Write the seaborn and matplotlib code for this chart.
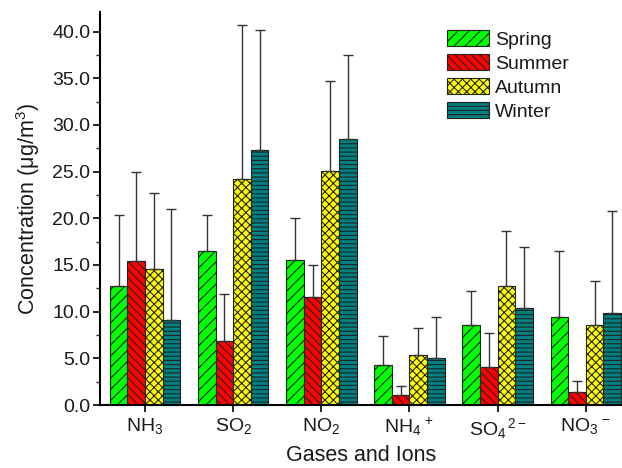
import numpy as np
import pandas as pd
import matplotlib
matplotlib.use("Agg")
import matplotlib.pyplot as plt
import matplotlib.patches as mpatches
from matplotlib.ticker import MultipleLocator, FormatStrFormatter
import seaborn as sns

# ---- data ----
species = [r"NH$_\mathregular{3}$", r"SO$_\mathregular{2}$", r"NO$_\mathregular{2}$",
           r"NH$_\mathregular{4}$$^{\mathregular{\,+}}$", r"SO$_\mathregular{4}$$^{\mathregular{\,2-}}$",
           r"NO$_\mathregular{3}$$^{\mathregular{\,-}}$"]
seasons = ["Spring", "Summer", "Autumn", "Winter"]
spring = [12.7, 16.5, 15.5, 4.3, 8.6, 9.4]
summer = [15.4, 6.9, 11.6, 1.1, 4.1, 1.4]
autumn = [14.6, 24.2, 25.1, 5.4, 12.8, 8.6]
winter = [9.1, 27.3, 28.5, 5.0, 10.4, 9.9]
spring_err = [7.7, 3.9, 4.5, 3.1, 3.6, 7.1]
summer_err = [9.6, 5.0, 3.4, 0.9, 3.6, 1.2]
autumn_err = [8.1, 16.5, 9.6, 2.8, 5.8, 4.7]
winter_err = [11.9, 12.9, 9.0, 4.4, 6.5, 10.9]

values = [spring, summer, autumn, winter]
errors = [spring_err, summer_err, autumn_err, winter_err]
colors = ["#00FF00", "#FF0000", "#FFFF00", "#008080"]
hatches = ["///", "\\\\\\\\", "xxxx", "----"]

df = pd.DataFrame({
    "species": np.tile(species, len(seasons)),
    "season": np.repeat(seasons, len(species)),
    "value": np.concatenate(values),
})

sns.set_style("ticks")
plt.rcParams["font.family"] = ["Liberation Sans", "DejaVu Sans"]
plt.rcParams["mathtext.fontset"] = "custom"
plt.rcParams["mathtext.rm"] = "Liberation Sans"
plt.rcParams["mathtext.it"] = "Liberation Sans:italic"
plt.rcParams["hatch.linewidth"] = 0.8

fig = plt.figure(figsize=(6.22, 4.68), dpi=100)
ax = fig.add_axes([100 / 622, 63 / 468, 522 / 622, 393 / 468])

sns.barplot(data=df, x="species", y="value", hue="season", hue_order=seasons,
            palette=colors, saturation=1, errorbar=None, width=0.8, edgecolor="black",
            linewidth=0.8, ax=ax, legend=False)

for cont, h, err in zip(ax.containers, hatches, errors):
    xs, hs = [], []
    for bar in cont:
        bar.set_hatch(h)
        bar.set_edgecolor("#222222")
        xs.append(bar.get_x() + bar.get_width() / 2)
        hs.append(bar.get_height())
    ax.errorbar(xs, hs, yerr=[np.zeros(len(err)), err], fmt="none",
                ecolor="#333333", elinewidth=1.0, capsize=3.6, capthick=1.0, zorder=1)

ax.set_xlim(-0.51, 5.41)
ax.set_ylim(0, 42.1)
ax.yaxis.set_major_locator(MultipleLocator(5))
ax.yaxis.set_minor_locator(MultipleLocator(2.5))
ax.yaxis.set_major_formatter(FormatStrFormatter("%.1f"))
ax.tick_params(axis="both", which="major", direction="out", length=5, width=1.2,
               labelsize=14, colors="black", labelcolor="#1a1a1a")
ax.tick_params(axis="x", pad=3)
ax.tick_params(axis="y", pad=2)
ax.tick_params(axis="y", which="minor", direction="out", length=3, width=1.0)
for s in ["top", "right"]:
    ax.spines[s].set_visible(False)
for s in ["left", "bottom"]:
    ax.spines[s].set_linewidth(1.5)
    ax.spines[s].set_color("black")

ax.set_xlabel("Gases and Ions", fontsize=15.5, labelpad=3, color="#1a1a1a")
ax.set_ylabel("Concentration (μg/m$^\\mathregular{3}$)", fontsize=15.5, labelpad=7,
              color="#1a1a1a")

handles = [mpatches.Patch(facecolor=c, edgecolor="#222222", hatch=h, linewidth=0.8, label=s)
           for c, h, s in zip(colors, hatches, seasons)]
ax.legend(handles=handles, loc="upper left", bbox_to_anchor=(0.664, 0.953),
          frameon=False, fontsize=14, handlelength=2.2, handleheight=0.85,
          labelspacing=0.28, handletextpad=0.3, borderpad=0, borderaxespad=0,
          labelcolor="#1a1a1a")

fig.savefig("out.png", dpi=100)
